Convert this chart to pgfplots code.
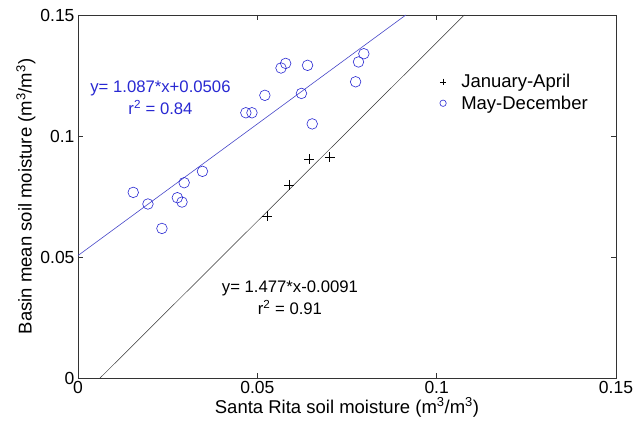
\documentclass[border=0pt]{standalone}
\usepackage{fontspec}
\setmainfont{Liberation Sans}
\usepackage{pgfplots}
\pgfplotsset{compat=1.18}

\definecolor{mblue}{RGB}{40,40,210}
\definecolor{lblue}{RGB}{70,70,200}

\begin{document}
\begin{tikzpicture}[x=1pt,y=1pt]
\path[use as bounding box] (-78,-55) rectangle (558,378);
\begin{axis}[
  scale only axis,
  width=538pt, height=363pt,
  xmin=0, xmax=0.15, ymin=0, ymax=0.15,
  xtick={0,0.05,0.1,0.15}, ytick={0,0.05,0.1,0.15},
  xticklabels={0,0.05,0.1,0.15}, yticklabels={0,0.05,0.1,0.15},
  tick align=inside,
  major tick length=5pt,
  tick style={black!80, line width=0.5pt},
  axis line style={black!80, line width=0.6pt},
  ticklabel style={font=\fontsize{17.5}{20}\selectfont},
  label style={font=\fontsize{18.5}{22}\selectfont},
  /pgf/number format/assume math mode=true,
  xlabel={Santa Rita soil moisture (m\textsuperscript{3}/m\textsuperscript{3})},
  ylabel={Basin mean soil moisture (m\textsuperscript{3}/m\textsuperscript{3})},
  xlabel style={yshift=3pt},
  ylabel style={yshift=-2pt},
  legend cell align=left,
  legend image post style={mark size=3.2pt},
  legend style={draw=none, fill=none, font=\fontsize{18.5}{21}\selectfont,
    at={(axis cs:0.1000,0.1272)}, anchor=north west, row sep=2.5pt,
    /tikz/every odd column/.append style={column sep=13pt}},
  clip=true,
]
% fitted lines
\addplot[lblue, line width=0.6pt, forget plot] coordinates {(0,0.0506) (0.0914,0.15)};
\addplot[black!80, line width=0.5pt, forget plot] coordinates {(0.00616,0) (0.10772,0.15)};

% January-April
\addplot[only marks, mark=+, mark size=5pt, black, mark options={line width=0.6pt}]
  coordinates {(0.0528,0.0669) (0.0589,0.0798) (0.0645,0.0904) (0.0702,0.0912)};
\addlegendentry{January-April}

% May-December
\addplot[only marks, mark=o, mark size=5.3pt, mblue, mark options={line width=0.6pt}]
  coordinates {
  (0.0154,0.0767) (0.0195,0.0719) (0.0234,0.0618) (0.0277,0.0745)
  (0.0290,0.0727) (0.0296,0.0807) (0.0347,0.0854) (0.0468,0.1096)
  (0.0485,0.1096) (0.0521,0.1168) (0.0566,0.1281) (0.0579,0.1300)
  (0.0640,0.1292) (0.0623,0.1176) (0.0653,0.1050) (0.0774,0.1224)
  (0.0782,0.1306) (0.0797,0.1340)};
\addlegendentry{May-December}

\node[mblue, align=center, font=\fontsize{16.7}{22}\selectfont] at (axis cs:0.0230,0.1157)
  {y= 1.087*x+0.0506\\r\textsuperscript{2} = 0.84};
\node[black, align=center, font=\fontsize{16.7}{22}\selectfont] at (axis cs:0.0591,0.0331)
  {y= 1.477*x-0.0091\\r\textsuperscript{2} = 0.91};
\end{axis}
\end{tikzpicture}
\end{document}
